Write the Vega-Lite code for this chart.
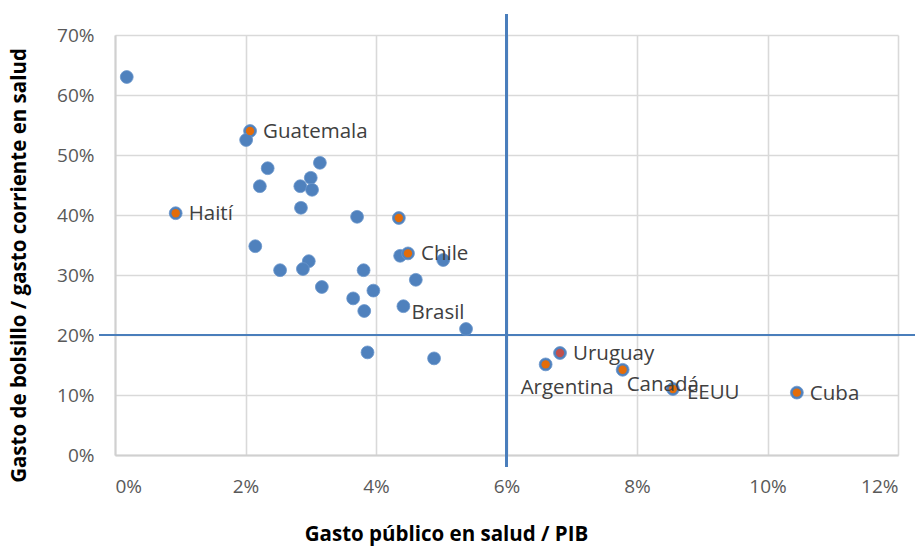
{
  "$schema": "https://vega.github.io/schema/vega-lite/v6.json",
  "width": 783,
  "height": 420,
  "autosize": {"type": "none"},
  "padding": {"left": 115, "top": 35, "right": 23, "bottom": 92},
  "background": "white",
  "config": {
    "view": {"stroke": null},
    "font": "Open Sans"
  },
  "data": {
    "values": [
      {"name": "p1", "x": 0.0018, "y": 0.630, "hl": "none", "label": ""},
      {"name": "Guatemala", "x": 0.0207, "y": 0.540, "hl": "orange", "label": "Guatemala"},
      {"name": "p3", "x": 0.0201, "y": 0.525, "hl": "none", "label": ""},
      {"name": "p4", "x": 0.0234, "y": 0.478, "hl": "none", "label": ""},
      {"name": "p5", "x": 0.0314, "y": 0.487, "hl": "none", "label": ""},
      {"name": "p6", "x": 0.0300, "y": 0.462, "hl": "none", "label": ""},
      {"name": "p7", "x": 0.0222, "y": 0.448, "hl": "none", "label": ""},
      {"name": "p8", "x": 0.0284, "y": 0.448, "hl": "none", "label": ""},
      {"name": "p9", "x": 0.0302, "y": 0.442, "hl": "none", "label": ""},
      {"name": "p10", "x": 0.0285, "y": 0.412, "hl": "none", "label": ""},
      {"name": "Haití", "x": 0.0093, "y": 0.403, "hl": "orange", "label": "Haití"},
      {"name": "p12", "x": 0.0371, "y": 0.397, "hl": "none", "label": ""},
      {"name": "p13", "x": 0.0435, "y": 0.395, "hl": "orange", "label": ""},
      {"name": "p14", "x": 0.0215, "y": 0.348, "hl": "none", "label": ""},
      {"name": "p15", "x": 0.0437, "y": 0.332, "hl": "none", "label": ""},
      {"name": "Chile", "x": 0.0449, "y": 0.336, "hl": "orange", "label": "Chile"},
      {"name": "p17", "x": 0.0503, "y": 0.325, "hl": "none", "label": ""},
      {"name": "p18", "x": 0.0253, "y": 0.308, "hl": "none", "label": ""},
      {"name": "p19", "x": 0.0297, "y": 0.323, "hl": "none", "label": ""},
      {"name": "p20", "x": 0.0288, "y": 0.310, "hl": "none", "label": ""},
      {"name": "p21", "x": 0.0381, "y": 0.308, "hl": "none", "label": ""},
      {"name": "p22", "x": 0.0461, "y": 0.292, "hl": "none", "label": ""},
      {"name": "p23", "x": 0.0317, "y": 0.280, "hl": "none", "label": ""},
      {"name": "p24", "x": 0.0396, "y": 0.274, "hl": "none", "label": ""},
      {"name": "p25", "x": 0.0365, "y": 0.261, "hl": "none", "label": ""},
      {"name": "p26", "x": 0.0382, "y": 0.240, "hl": "none", "label": ""},
      {"name": "Brasil", "x": 0.0442, "y": 0.248, "hl": "none", "label": "Brasil"},
      {"name": "p28", "x": 0.0538, "y": 0.210, "hl": "none", "label": ""},
      {"name": "p29", "x": 0.0387, "y": 0.171, "hl": "none", "label": ""},
      {"name": "p30", "x": 0.0489, "y": 0.161, "hl": "none", "label": ""},
      {"name": "Uruguay", "x": 0.0682, "y": 0.170, "hl": "red", "label": "Uruguay"},
      {"name": "Argentina", "x": 0.0660, "y": 0.151, "hl": "orange", "label": "Argentina"},
      {"name": "Canadá", "x": 0.0778, "y": 0.142, "hl": "orange", "label": "Canadá"},
      {"name": "EEUU", "x": 0.0855, "y": 0.110, "hl": "orange", "label": "EEUU"},
      {"name": "Cuba", "x": 0.1045, "y": 0.104, "hl": "orange", "label": "Cuba"}
    ]
  },
  "encoding": {
    "x": {
      "field": "x", "type": "quantitative",
      "scale": {"domain": [0, 0.12], "nice": false, "zero": false},
      "axis": {
        "format": ".0%", "values": [0, 0.02, 0.04, 0.06, 0.08, 0.1, 0.12],
        "title": "Gasto público en salud / PIB",
        "titleFont": "Open Sans", "titleFontSize": 20.5, "titleFontWeight": "bold", "titleColor": "#000000",
        "titleX": 331, "titleY": 79, "titleBaseline": "middle", "titleAnchor": null, "titleAlign": "center",
        "labelFont": "Open Sans", "labelFontSize": 19, "labelColor": "#595959", "labelPadding": 22,
        "ticks": false, "tickSize": 0,
        "domainColor": "#d0d0d0", "domainWidth": 2,
        "gridColor": "#d9d9d9", "gridWidth": 1.6
      }
    },
    "y": {
      "field": "y", "type": "quantitative",
      "scale": {"domain": [0, 0.7], "nice": false, "zero": false},
      "axis": {
        "format": ".0%", "values": [0, 0.1, 0.2, 0.3, 0.4, 0.5, 0.6, 0.7],
        "title": "Gasto de bolsillo / gasto corriente en salud",
        "titleFont": "Open Sans", "titleFontSize": 20.5, "titleFontWeight": "bold", "titleColor": "#000000",
        "titleX": -96, "titleY": 230, "titleBaseline": "middle", "titleAngle": -90, "titleAlign": "center",
        "labelFont": "Open Sans", "labelFontSize": 19, "labelColor": "#595959", "labelPadding": 21,
        "ticks": false, "tickSize": 0,
        "domainColor": "#d0d0d0", "domainWidth": 2,
        "gridColor": "#d9d9d9", "gridWidth": 1.6
      }
    }
  },
  "layer": [
    {
      "mark": {"type": "rule", "color": "#4a7ebb", "strokeWidth": 2},
      "encoding": {
        "x": {"datum": 0.06},
        "y": {"datum": -0.02},
        "y2": {"datum": 0.735}
      }
    },
    {
      "mark": {"type": "rule", "color": "#4a7ebb", "strokeWidth": 2},
      "encoding": {
        "y": {"datum": 0.2},
        "x": {"datum": -0.0024},
        "x2": {"datum": 0.1226}
      }
    },
    {
      "mark": {"type": "circle", "size": 165, "opacity": 1, "color": "#4f81bd", "stroke": "#6a96cc", "strokeWidth": 0.8}
    },
    {
      "transform": [{"filter": "datum.hl != 'none'"}],
      "mark": {"type": "circle", "size": 70, "opacity": 1},
      "encoding": {
        "color": {"field": "hl", "type": "nominal", "scale": {"domain": ["orange", "red"], "range": ["#e36c09", "#c0504d"]}, "legend": null}
      }
    },
    {
      "transform": [{"filter": {"field": "name", "oneOf": ["Guatemala", "Haití", "Chile", "Uruguay", "Cuba"]}}],
      "mark": {"type": "text", "align": "left", "baseline": "middle", "dx": 13, "dy": 1, "fontSize": 20.5, "font": "Open Sans", "color": "#404040"},
      "encoding": {"text": {"field": "label"}}
    },
    {
      "transform": [{"filter": {"field": "name", "equal": "EEUU"}}],
      "mark": {"type": "text", "align": "left", "baseline": "middle", "dx": 14, "dy": 4, "fontSize": 20.5, "font": "Open Sans", "color": "#404040"},
      "encoding": {"text": {"field": "label"}}
    },
    {
      "transform": [{"filter": {"field": "name", "equal": "Brasil"}}],
      "mark": {"type": "text", "align": "left", "baseline": "middle", "dx": 8, "dy": 7, "fontSize": 20.5, "font": "Open Sans", "color": "#404040"},
      "encoding": {"text": {"field": "label"}}
    },
    {
      "transform": [{"filter": {"field": "name", "equal": "Argentina"}}],
      "mark": {"type": "text", "align": "left", "baseline": "middle", "dx": -25, "dy": 24, "fontSize": 20.5, "font": "Open Sans", "color": "#404040"},
      "encoding": {"text": {"field": "label"}}
    },
    {
      "transform": [{"filter": {"field": "name", "equal": "Canadá"}}],
      "mark": {"type": "text", "align": "left", "baseline": "middle", "dx": 4, "dy": 15, "fontSize": 20.5, "font": "Open Sans", "color": "#404040"},
      "encoding": {"text": {"field": "label"}}
    }
  ]
}
